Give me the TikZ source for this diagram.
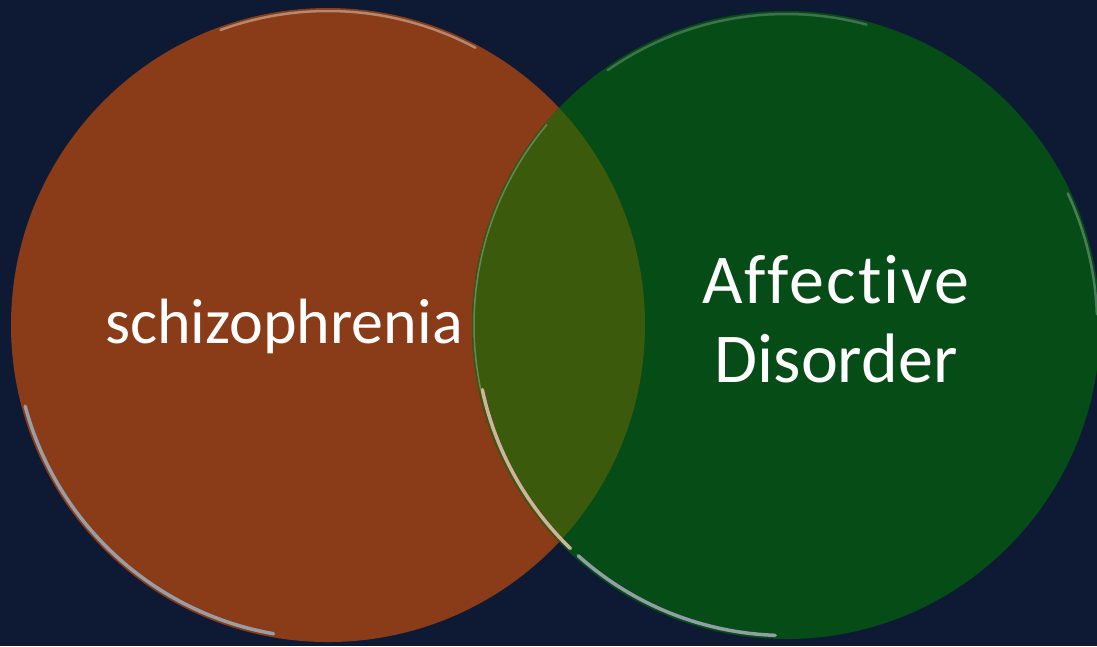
\documentclass[tikz,border=0pt]{standalone}
\usepackage{fontspec}
\setmainfont[Ligatures={NoCommon}]{Carlito}
\definecolor{bgnavy}{HTML}{0E1A33}
\definecolor{rust}{HTML}{893C17}
\definecolor{forest}{HTML}{064C17}
\definecolor{olive}{HTML}{3C5A0B}
\definecolor{rimgray}{HTML}{9AA3AE}
\definecolor{rimpink}{HTML}{D8B8A8}
\tikzset{
  vlabel/.style={text=white, align=center, inner sep=0pt},
  rim/.style={line width=3.5pt, line cap=round, opacity=0.95},
  toprim/.style={line width=2.5pt, line cap=round, opacity=0.55},
}
\begin{document}
\begin{tikzpicture}[x=1pt,y=-1pt]
\fill[bgnavy] (0,0) rectangle (1097,646);
\useasboundingbox (0,0) rectangle (1097,646);
\coordinate (cl) at (328,325);
\coordinate (cr) at (786,325);
\fill[rust] (cl) circle (317);
\fill[forest] (cr) circle (314);
\begin{scope}
  \clip (cl) circle (317);
  \fill[olive] (cr) circle (314);
\end{scope}
% glossy rims (y axis points down: angles are mirrored)
\draw[rim, rimgray] (cl) ++(100:313.5) arc[start angle=100, end angle=165, radius=313.5];
\draw[rim, rimgray] (cr) ++(92:310.5) arc[start angle=92, end angle=132, radius=310.5];
\draw[rim, rimpink] (cr) ++(134:310.5) arc[start angle=134, end angle=168, radius=310.5];
\draw[line width=1.5pt, white!40!forest, opacity=0.8] (cr) ++(168:312) arc[start angle=168, end angle=220, radius=312];
\draw[toprim, white!70!rust] (cl) ++(250:314) arc[start angle=250, end angle=298, radius=314];
\draw[toprim, white!40!forest] (cr) ++(235:311) arc[start angle=235, end angle=285, radius=311];
\draw[toprim, white!50!forest] (cr) ++(335:311) arc[start angle=335, end angle=358, radius=311];
\node[vlabel, font=\fontsize{64}{76}\selectfont, anchor=base] (schz) at (284,343) {schizophrenia};
\node[vlabel, font=\fontsize{70}{79}\selectfont\addfontfeature{LetterSpace=3}, anchor=base] (aff) at (836,303) {Affective};
\node[vlabel, font=\fontsize{70}{79}\selectfont, anchor=base] (dis) at (836,382) {Disorder};
\end{tikzpicture}
\end{document}
